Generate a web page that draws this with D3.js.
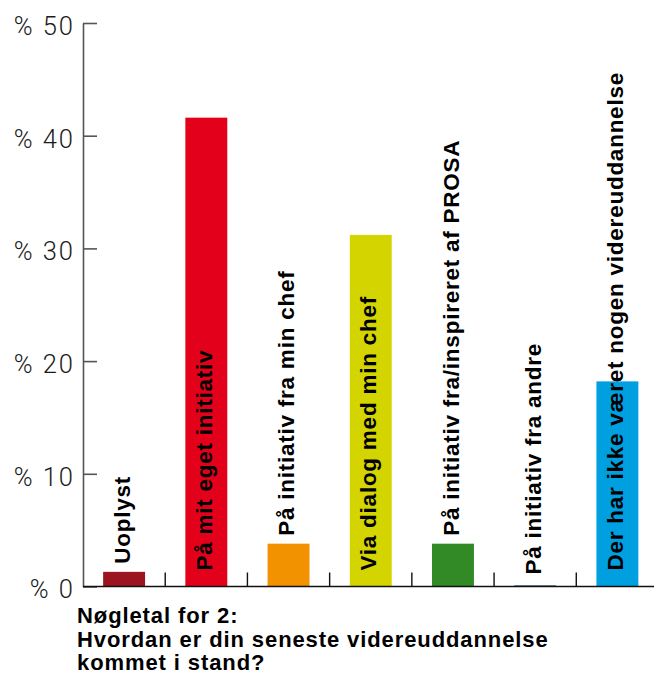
<!DOCTYPE html>
<html>
<head>
<meta charset="utf-8">
<script src="https://cdn.jsdelivr.net/npm/d3@7"></script>
<style>
  html, body { margin: 0; padding: 0; background: #fff; }
  svg { display: block; }
</style>
</head>
<body>
<svg id="chart" width="654" height="684"></svg>
<script>
const categories = [
  "Uoplyst",
  "På mit eget initiativ",
  "På initiativ fra min chef",
  "Via dialog med min chef",
  "På initiativ fra/inspireret af PROSA",
  "På initiativ fra andre",
  "Der har ikke været nogen videreuddannelse"
];
const values = [1.3, 41.6, 3.8, 31.2, 3.8, 0.1, 18.2];
const colors = ["#9b1520", "#e2001a", "#f39200", "#d3d400", "#318a25", "#1d5a6a", "#009fe0"];
const yTicks = [0, 10, 20, 30, 40, 50];
const titleLines = [
  "Nøgletal for 2:",
  "Hvordan er din seneste videreuddannelse",
  "kommet i stand?"
];

const svg = d3.select("#chart");
const plotLeft = 83, plotRight = 658.5, plotTop = 23, plotBottom = 586.5;

const x = d3.scaleBand()
  .domain(categories)
  .range([plotLeft, plotRight])
  .paddingInner(0.49)
  .paddingOuter(0.245);

const y = d3.scaleLinear().domain([0, 50]).range([plotBottom, plotTop]);

// y axis
const yAxis = svg.append("g")
  .attr("transform", `translate(${plotLeft},0)`)
  .call(d3.axisLeft(y)
    .tickValues(yTicks)
    .tickSizeInner(-14)
    .tickSizeOuter(0)
    .tickPadding(8)
    .tickFormat(d => "% " + d));
yAxis.select(".domain").attr("stroke", "#555").attr("stroke-width", 1.6);
yAxis.selectAll(".tick line").attr("stroke", "#555").attr("stroke-width", 1.6);
yAxis.selectAll(".tick text")
  .attr("fill", "#1a1a1a")
  .attr("dy", "0.45em")
  .style("font-family", "Roboto, 'Liberation Sans', sans-serif")
  .style("font-weight", 300)
  .style("font-size", "25.5px")
  .style("letter-spacing", "2px");

// bars
svg.append("g").selectAll("rect")
  .data(categories)
  .join("rect")
  .attr("x", d => x(d))
  .attr("width", x.bandwidth())
  .attr("y", (d, i) => y(values[i]))
  .attr("height", (d, i) => y(0) - y(values[i]))
  .attr("fill", (d, i) => colors[i]);

// baseline + ticks between categories
svg.append("line")
  .attr("x1", plotLeft).attr("x2", 654)
  .attr("y1", y(0)).attr("y2", y(0))
  .attr("stroke", "#111").attr("stroke-width", 1.6);
svg.append("g").selectAll("line")
  .data(d3.range(1, categories.length))
  .join("line")
  .attr("x1", i => x.range()[0] + i * x.step())
  .attr("x2", i => x.range()[0] + i * x.step())
  .attr("y1", y(0))
  .attr("y2", y(0) - 14)
  .attr("stroke", "#111").attr("stroke-width", 1.4);

// rotated category labels: inside tall bars, above short ones
svg.append("g").selectAll("text")
  .data(categories)
  .join("text")
  .attr("transform", (d, i) => {
    const cx = x(d) + x.bandwidth() / 2;
    const v = values[i];
    const yy = v > 10 ? y(0) - 16 : Math.min(y(v) - 8, y(0) - 12);
    return `translate(${cx},${yy}) rotate(-90)`;
  })
  .attr("dy", "0.25em")
  .attr("text-anchor", "start")
  .attr("fill", "#000")
  .style("font-family", "'Liberation Sans', Arial, sans-serif")
  .style("font-weight", "bold")
  .style("font-size", "22.5px")
  .style("letter-spacing", "0.75px")
  .text(d => d);

// title
const title = svg.append("text")
  .attr("x", 77)
  .attr("y", 623)
  .attr("fill", "#000")
  .style("font-family", "'Liberation Sans', Arial, sans-serif")
  .style("font-weight", "bold")
  .style("font-size", "22px")
  .style("letter-spacing", "0.9px");
title.selectAll("tspan")
  .data(titleLines)
  .join("tspan")
  .attr("x", 77)
  .attr("dy", (d, i) => i === 0 ? 0 : 23.5)
  .text(d => d);
</script>
</body>
</html>
